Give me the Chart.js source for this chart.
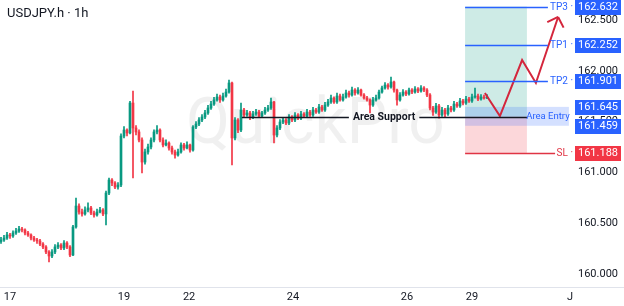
<!DOCTYPE html>
<html><head><meta charset="utf-8">
<script src="https://cdn.jsdelivr.net/npm/chart.js@4.4.1/dist/chart.umd.min.js"></script>
<style>
html,body{margin:0;padding:0;background:#fff;overflow:hidden}
#wrap{position:relative;width:624px;height:306px}
#title{position:absolute;left:7px;top:5px;font:13px Roboto, sans-serif;color:#131722;white-space:nowrap}
</style></head><body>
<div id="wrap"><canvas id="c" width="624" height="306"></canvas><div id="title">USDJPY.h · 1h</div></div>
<script>
// ---- DATA ----
const close = [
160.335,160.354,160.384,160.374,160.404,160.423,160.443,160.433,160.404,160.384,
160.354,160.335,160.325,160.295,160.266,160.217,160.177,160.217,160.266,160.285,
160.256,160.305,160.266,160.187,160.463,160.669,160.610,160.591,160.630,160.650,
160.600,160.581,160.610,160.630,160.591,160.797,160.925,160.896,160.856,160.876,
161.358,161.417,161.388,161.683,161.437,161.398,161.319,161.102,161.201,161.250,
161.319,161.398,161.417,161.319,161.270,161.289,161.240,161.201,161.171,161.201,
161.270,161.240,161.270,161.220,161.447,161.476,161.516,161.545,161.585,161.634,
161.673,161.713,161.742,161.713,161.752,161.791,161.880,161.339,161.516,161.417,
161.614,161.565,161.585,161.545,161.575,161.594,161.555,161.585,161.614,161.634,
161.693,161.368,161.437,161.496,161.516,161.486,161.545,161.516,161.565,161.535,
161.575,161.555,161.594,161.565,161.614,161.594,161.644,161.614,161.663,161.693,
161.732,161.693,161.752,161.713,161.742,161.782,161.762,161.811,161.782,161.811,
161.762,161.732,161.713,161.663,161.713,161.732,161.791,161.831,161.860,161.841,
161.890,161.811,161.713,161.762,161.791,161.772,161.811,161.791,161.821,161.801,
161.831,161.811,161.762,161.634,161.594,161.654,161.565,161.614,161.575,161.634,
161.614,161.673,161.654,161.703,161.683,161.722,161.703,161.742,161.752,161.722,
161.742,161.732,161.742];
const open = [
160.320,160.335,160.354,160.384,160.374,160.404,160.423,160.443,160.433,160.404,
160.384,160.354,160.335,160.325,160.295,160.266,160.217,160.177,160.217,160.266,
160.285,160.256,160.305,160.266,160.187,160.463,160.669,160.610,160.591,160.630,
160.650,160.600,160.581,160.610,160.630,160.591,160.797,160.925,160.896,160.856,
160.876,161.358,161.417,161.388,161.683,161.437,161.398,161.319,161.102,161.201,
161.250,161.319,161.398,161.417,161.319,161.270,161.289,161.240,161.201,161.171,
161.201,161.270,161.240,161.270,161.220,161.447,161.476,161.516,161.545,161.585,
161.634,161.673,161.713,161.742,161.713,161.752,161.791,161.880,161.339,161.516,
161.417,161.614,161.565,161.585,161.545,161.575,161.594,161.555,161.585,161.614,
161.634,161.693,161.368,161.437,161.496,161.516,161.486,161.545,161.516,161.565,
161.535,161.575,161.555,161.594,161.565,161.614,161.594,161.644,161.614,161.663,
161.693,161.732,161.693,161.752,161.713,161.742,161.782,161.762,161.811,161.782,
161.811,161.762,161.732,161.713,161.663,161.713,161.732,161.791,161.831,161.860,
161.841,161.890,161.811,161.713,161.762,161.791,161.772,161.811,161.791,161.821,
161.801,161.831,161.811,161.762,161.634,161.594,161.654,161.565,161.614,161.575,
161.634,161.614,161.673,161.654,161.703,161.683,161.722,161.703,161.742,161.752,
161.722,161.742,161.732];
const high = [
160.360,160.380,160.410,160.400,160.425,160.450,160.470,160.460,160.445,160.420,
160.395,160.370,160.350,160.340,160.310,160.280,160.230,160.240,160.290,160.310,
160.300,160.330,160.320,160.280,160.480,160.748,160.690,160.640,160.660,160.700,
160.665,160.620,160.640,160.655,160.645,160.815,160.945,160.940,160.910,160.900,
161.380,161.450,161.430,161.700,161.801,161.460,161.420,161.340,161.230,161.280,
161.340,161.420,161.460,161.430,161.340,161.320,161.300,161.260,161.220,161.230,
161.290,161.285,161.300,161.280,161.460,161.500,161.540,161.570,161.610,161.660,
161.700,161.740,161.770,161.760,161.780,161.820,161.909,161.890,161.540,161.530,
161.683,161.630,161.610,161.600,161.600,161.620,161.610,161.600,161.640,161.660,
161.732,161.700,161.460,161.520,161.540,161.530,161.570,161.560,161.590,161.580,
161.600,161.590,161.620,161.610,161.640,161.630,161.670,161.660,161.690,161.720,
161.760,161.745,161.780,161.770,161.770,161.810,161.800,161.840,161.825,161.835,
161.820,161.775,161.750,161.725,161.740,161.760,161.810,161.850,161.885,161.875,
161.939,161.900,161.820,161.785,161.815,161.805,161.830,161.825,161.845,161.835,
161.855,161.845,161.825,161.775,161.650,161.680,161.670,161.640,161.630,161.660,
161.650,161.700,161.690,161.730,161.720,161.750,161.740,161.770,161.831,161.770,
161.765,161.760,161.765];
const low = [
160.300,160.320,160.340,160.350,160.360,160.390,160.410,160.415,160.385,160.370,
160.335,160.320,160.300,160.280,160.250,160.200,160.118,160.160,160.200,160.250,
160.240,160.240,160.250,160.170,160.180,160.450,160.590,160.570,160.580,160.610,
160.585,160.560,160.570,160.600,160.575,160.482,160.780,160.870,160.840,160.835,
160.860,161.340,161.360,161.380,160.945,161.370,161.300,160.994,161.080,161.180,
161.230,161.300,161.380,161.300,161.250,161.260,161.220,161.180,161.140,161.160,
161.190,161.220,161.230,161.200,161.210,161.430,161.460,161.500,161.530,161.570,
161.620,161.660,161.700,161.690,161.700,161.740,161.780,161.073,161.320,161.390,
161.400,161.540,161.550,161.520,161.530,161.560,161.540,161.540,161.570,161.600,
161.620,161.289,161.350,161.420,161.480,161.470,161.470,161.500,161.500,161.520,
161.520,161.540,161.540,161.550,161.550,161.580,161.580,161.600,161.600,161.650,
161.680,161.680,161.680,161.700,161.700,161.730,161.740,161.750,161.760,161.770,
161.750,161.720,161.700,161.585,161.650,161.700,161.720,161.780,161.820,161.820,
161.830,161.790,161.663,161.700,161.750,161.755,161.760,161.775,161.780,161.785,
161.790,161.795,161.745,161.615,161.560,161.580,161.535,161.550,161.545,161.560,
161.595,161.600,161.640,161.640,161.665,161.670,161.690,161.690,161.730,161.705,
161.710,161.720,161.725];
const dayTickPos = [3, 41, 62.7, 97.3, 135.3, 157, 189.7];
const dayTickLabels = ['17','19','22','24','26','29','J'];
const priceTicks = [160, 160.5, 161, 161.5, 162, 162.5];
// trade plan levels
const tp3 = 162.632, tp1 = 162.252, tp2 = 161.901;
const entryTop = 161.645, entryBot = 161.459, entryPrice = 161.548, sl = 161.188;
const supportPrice = 161.548;
// projected path (bar index, price)
const pathIdx = [161.3, 166.3, 173.7, 178.3, 185.7];
const pathPrice = [161.781, 161.555, 162.106, 161.880, 162.530];

// ---- layout / style config ----
const X_MIN = -1/3, X_MAX = 190.333;
const zoneX = [154.7, 175.3];
const supportX = [80.3, 175.3], supportLabelX = 127.7;
const entryLabelEnd = 189.3;
const lvlLines = [
  {name:'TP3', price:tp3, end:182.3, color:'#2962ff'},
  {name:'TP1', price:tp1, end:182.3, color:'#2962ff'},
  {name:'TP2', price:tp2, end:182.3, color:'#2962ff'},
  {name:'SL',  price:sl,  end:184.7, color:'#e03444'}
];
const axisTags = [
  {price:tp3, color:'#2962ff'}, {price:tp1, color:'#2962ff'}, {price:tp2, color:'#2962ff'},
  {price:entryTop, color:'#2962ff'}, {price:entryBot, color:'#2962ff'}, {price:sl, color:'#f23645'}
];
const UP = '#089981', DN = '#f23645';
const FONT = 'Roboto, "Noto Sans", sans-serif';

const idx = close.map((_, i) => i);
const cols = idx.map(i => close[i] >= open[i] ? UP : DN);

const plan = {
  id: 'plan',
  beforeDatasetsDraw(ch) {
    const {ctx, chartArea: a, scales: {x, y}} = ch;
    ctx.save();
    // watermark
    ctx.font = '64px ' + FONT;
    ctx.fillStyle = 'rgba(0,0,0,0.06)';
    ctx.textBaseline = 'alphabetic';
    ctx.fillText('QuickPro', 186, 143);
    // zones
    const x1 = x.getPixelForValue(zoneX[0]), x2 = x.getPixelForValue(zoneX[1]);
    ctx.fillStyle = 'rgba(8,153,129,0.20)';
    ctx.fillRect(x1, y.getPixelForValue(tp3), x2 - x1, y.getPixelForValue(entryPrice) - y.getPixelForValue(tp3));
    ctx.fillStyle = 'rgba(242,54,69,0.20)';
    ctx.fillRect(x1, y.getPixelForValue(entryPrice), x2 - x1, y.getPixelForValue(sl) - y.getPixelForValue(entryPrice));
    const xe = x.getPixelForValue(entryLabelEnd);
    ctx.fillStyle = 'rgba(41,98,255,0.20)';
    ctx.fillRect(x1, y.getPixelForValue(entryTop), xe - x1, y.getPixelForValue(entryBot) - y.getPixelForValue(entryTop));
    ctx.restore();
  },
  afterDatasetsDraw(ch) {
    const {ctx, chartArea: a, scales: {x, y}} = ch;
    ctx.save();
    ctx.textBaseline = 'middle';
    lvlLines.forEach(l => {
      const py = Math.round(y.getPixelForValue(l.price)) + 0.5;
      ctx.strokeStyle = l.color; ctx.lineWidth = 1.5;
      ctx.beginPath(); ctx.moveTo(x.getPixelForValue(zoneX[0]), py); ctx.lineTo(x.getPixelForValue(l.end), py); ctx.stroke();
      ctx.fillStyle = l.color; ctx.font = '10px ' + FONT; ctx.textAlign = 'right';
      ctx.fillText(l.name + ' ·', a.right + 1, py);
    });
    const sy = Math.round(y.getPixelForValue(supportPrice)) + 0.5;
    ctx.font = 'bold 10.5px ' + FONT;
    const lx = x.getPixelForValue(supportLabelX);
    const tw = ctx.measureText('Area Support').width;
    ctx.strokeStyle = '#131722'; ctx.lineWidth = 1.5;
    ctx.beginPath();
    ctx.moveTo(x.getPixelForValue(supportX[0]), sy); ctx.lineTo(lx - tw/2 - 4, sy);
    ctx.moveTo(lx + tw/2 + 4, sy); ctx.lineTo(x.getPixelForValue(supportX[1]), sy);
    ctx.stroke();
    ctx.fillStyle = '#131722'; ctx.textAlign = 'center';
    ctx.fillText('Area Support', lx, sy);
    const ex = (x.getPixelForValue(zoneX[1]) + x.getPixelForValue(entryLabelEnd)) / 2;
    ctx.font = '9.5px ' + FONT; ctx.fillStyle = '#2962ff';
    ctx.fillText('Area Entry', ex, (y.getPixelForValue(entryTop) + y.getPixelForValue(entryBot)) / 2);
    const n = pathIdx.length;
    const tx = x.getPixelForValue(pathIdx[n-1]), ty = y.getPixelForValue(pathPrice[n-1]);
    const px = x.getPixelForValue(pathIdx[n-2]), pyy = y.getPixelForValue(pathPrice[n-2]);
    const ang = Math.atan2(pyy - ty, px - tx);
    ctx.strokeStyle = '#d4263c'; ctx.lineWidth = 2;
    ctx.beginPath();
    [0.8, -0.8].forEach(d => {
      ctx.moveTo(tx, ty); ctx.lineTo(tx + 12*Math.cos(ang + d), ty + 12*Math.sin(ang + d));
    });
    ctx.stroke();
    ctx.restore();
  },
  afterDraw(ch) {
    const {ctx, chartArea: a, scales: {y}} = ch;
    ctx.save();
    ctx.strokeStyle = '#e0e3eb'; ctx.lineWidth = 1;
    ctx.beginPath(); ctx.moveTo(0, a.bottom + 0.5); ctx.lineTo(ch.width, a.bottom + 0.5); ctx.stroke();
    ctx.font = '11px ' + FONT; ctx.textAlign = 'center'; ctx.textBaseline = 'middle';
    axisTags.forEach(t => {
      const py = Math.round(y.getPixelForValue(t.price));
      ctx.fillStyle = t.color;
      ctx.fillRect(a.right + 3, py - 7, 46, 15);
      ctx.fillStyle = '#ffffff';
      ctx.fillText(t.price.toFixed(3), a.right + 26, py + 0.5);
    });
    ctx.restore();
  }
};

new Chart(document.getElementById('c'), {
  type: 'bar',
  data: {
    datasets: [
      { label: 'wick', data: idx.map(i => ({x: i, y: [low[i], high[i]]})), backgroundColor: cols,
        barThickness: 1, grouped: false, order: 3 },
      { label: 'body', data: idx.map(i => ({x: i, y: [open[i], close[i]]})), backgroundColor: cols,
        barThickness: 2, minBarLength: 1, grouped: false, order: 2 },
      { type: 'line', label: 'path', data: pathIdx.map((v, k) => ({x: v, y: pathPrice[k]})),
        borderColor: '#d4263c', borderWidth: 2, pointRadius: 0, tension: 0, order: 1 }
    ]
  },
  options: {
    responsive: false, animation: false, devicePixelRatio: 1,
    layout: {padding: 0},
    plugins: {legend: {display: false}, tooltip: {enabled: false}},
    scales: {
      x: {
        type: 'linear', min: X_MIN, max: X_MAX, offset: false,
        grid: {display: false, drawTicks: false}, border: {display: false},
        ticks: {autoSkip: false, maxRotation: 0, padding: 4, color: '#131722', font: {size: 11, family: FONT},
          callback: (v, i) => dayTickLabels[i]},
        afterBuildTicks: s => { s.ticks = dayTickPos.map(v => ({value: v})); },
        afterFit: s => { s.height = 19; s.paddingLeft = 0; s.paddingRight = 0; }
      },
      y: {
        position: 'right', min: 159.872, max: 162.697,
        grid: {display: false, drawTicks: false}, border: {display: false},
        ticks: {padding: 6, color: '#131722', font: {size: 11, family: FONT}, callback: v => Number(v).toFixed(3)},
        afterBuildTicks: s => { s.ticks = priceTicks.map(v => ({value: v})); },
        afterFit: s => { s.width = 52; s.paddingTop = 0; s.paddingBottom = 0; }
      }
    }
  },
  plugins: [plan]
});
</script>
</body></html>
